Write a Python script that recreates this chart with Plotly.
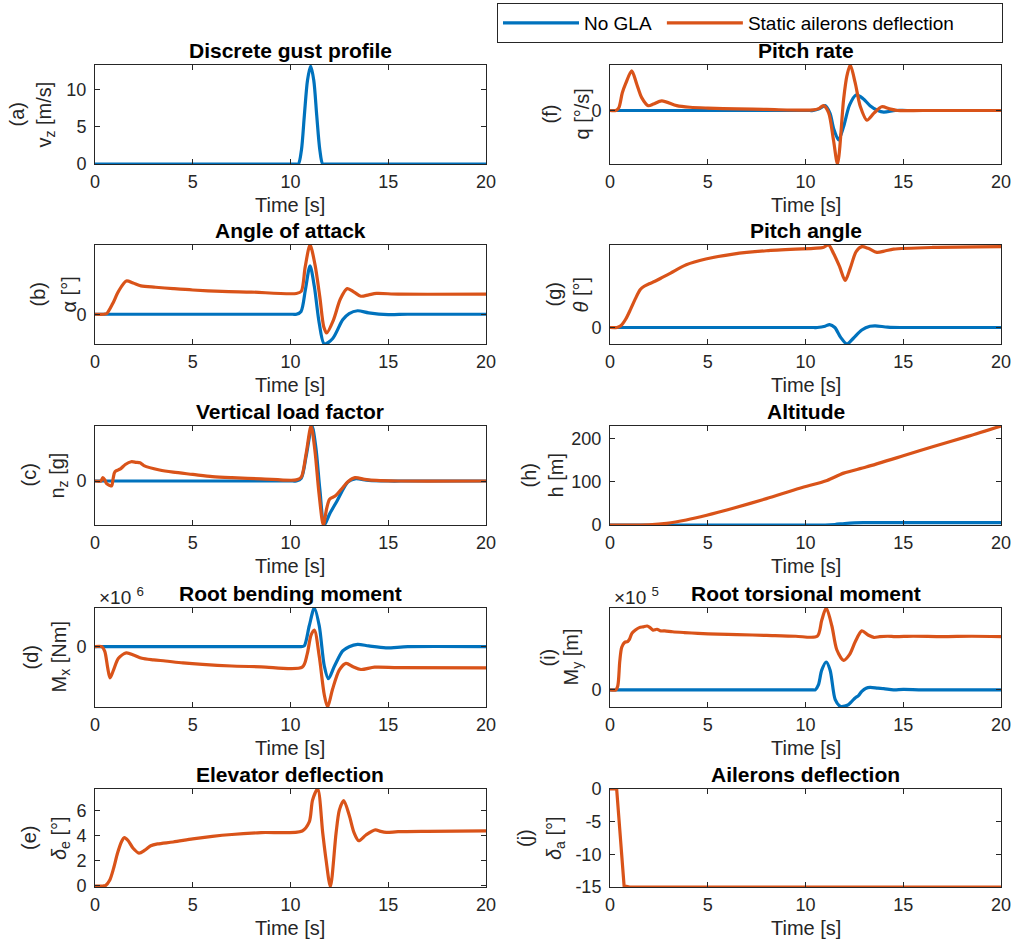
import plotly.graph_objects as go

BLUE = "#0072BD"
ORANGE = "#D95319"

# ---------------- data ----------------
# (a) gust
t_a_nogla = [0, 10.2, 10.40, 10.56, 10.71, 10.87, 11.03, 11.19, 11.34, 11.50, 11.65, 11.85, 20]
v_a_nogla = [0, 0, 0, 1.9, 6.6, 11.3, 13.2, 11.3, 6.6, 1.9, 0, 0, 0]

# (b) angle of attack (arbitrary units)
t_b_nogla = [0, 10.1, 10.3, 10.54, 10.76, 11.0, 11.22, 11.47, 11.73, 12.16, 12.67, 13.0, 13.43, 14.0, 15.0, 16.0, 20]
v_b_nogla = [0, 0, 0, 0.04, 0.35, 0.70, 0.40, -0.13, -0.43, -0.35, -0.08, 0.01, 0.05, 0.02, -0.005, 0, 0]
t_b_sad = [0, 0.45, 0.6, 0.9, 1.2, 1.6, 1.95, 2.35, 3.1, 4.0, 5.0, 6.5, 8.0, 10.3, 10.55, 10.75, 11.0,
           11.25, 11.5, 11.7, 11.85, 12.2, 12.55, 12.9, 13.25, 13.6, 14.0, 14.4, 15.5, 20]
v_b_sad = [0, 0, 0.01, 0.15, 0.33, 0.48, 0.45, 0.41, 0.39, 0.37, 0.35, 0.33, 0.32, 0.30, 0.33, 0.68, 1.0,
           0.72, 0.25, -0.18, -0.27, -0.08, 0.22, 0.37, 0.32, 0.26, 0.28, 0.30, 0.29, 0.29]

# (c) vertical load factor
t_c_nogla = [0, 10.1, 10.3, 10.55, 10.8, 11.1, 11.3, 11.5, 11.73, 12.0, 12.4, 12.93, 13.3, 14.0, 15.0, 16.0, 20]
v_c_nogla = [0, 0, 0, 0.05, 0.45, 1.0, 0.6, -0.15, -0.8, -0.6, -0.35, -0.02, 0.04, 0.01, 0, 0, 0]
t_c_sad = [0, 0.3, 0.4, 0.5, 0.6, 0.75, 0.85, 0.93, 1.02, 1.3, 1.55, 1.85, 2.1, 2.3, 2.5, 3.3, 4.0, 5.0,
           6.0, 7.0, 8.5, 10.3, 10.55, 10.8, 11.05, 11.25, 11.45, 11.68, 11.85, 12.0, 12.3, 12.6, 12.95,
           13.3, 13.8, 14.4, 15.5, 20]
v_c_sad = [0, 0, 0.06, 0.02, -0.05, -0.08, -0.09, 0.05, 0.17, 0.22, 0.30, 0.35, 0.34, 0.33, 0.28, 0.20,
           0.16, 0.12, 0.08, 0.06, 0.04, 0.02, 0.07, 0.5, 1.0, 0.55, -0.2, -0.8, -0.5, -0.33, -0.27, -0.15,
           -0.01, 0.06, 0.03, 0.01, 0.0, 0.0]

# (d) root bending moment (x 1e6 Nm)
t_d_nogla = [0, 10.3, 10.5, 10.7, 10.96, 11.22, 11.47, 11.73, 11.94, 12.25, 12.67, 13.0, 13.43, 14.0, 14.88, 16, 20]
v_d_nogla = [0, 0, 0, 0.02, 0.54, 1.0, 0.54, -0.5, -0.83, -0.5, -0.11, 0.0, 0.06, 0.02, -0.03, 0, 0]
t_d_sad = [0, 0.35, 0.5, 0.65, 0.77, 0.95, 1.2, 1.6, 2.0, 2.4, 3.0, 3.6, 4.5, 5.5, 7.0, 8.5, 10.6, 10.85,
           11.05, 11.22, 11.47, 11.73, 11.9, 12.15, 12.5, 12.84, 13.2, 13.6, 14.3, 15.5, 20]
v_d_sad = [0, 0, -0.12, -0.55, -0.81, -0.6, -0.3, -0.16, -0.22, -0.3, -0.34, -0.37, -0.42, -0.46, -0.5,
           -0.52, -0.53, -0.2, 0.3, 0.43, -0.25, -1.25, -1.56, -1.1, -0.6, -0.43, -0.52, -0.59, -0.53,
           -0.54, -0.55]

# (e) elevator deflection [deg]
t_e_sad = [0, 0.4, 0.55, 0.75, 0.95, 1.15, 1.35, 1.5, 1.7, 1.95, 2.25, 2.55, 2.85, 3.2, 4.0, 5.0, 6.0, 7.0,
           8.5, 10.6, 10.96, 11.13, 11.39, 11.65, 11.82, 12.04, 12.33, 12.5, 12.72, 13.0, 13.26, 13.49,
           13.86, 14.34, 14.6, 14.9, 15.5, 17, 20]
v_e_sad = [0, 0, 0.05, 0.45, 1.4, 2.6, 3.5, 3.85, 3.6, 3.0, 2.62, 2.85, 3.2, 3.35, 3.5, 3.75, 3.95, 4.1,
           4.25, 4.38, 5.1, 6.85, 7.72, 4.2, 2.07, -0.05, 4.2, 6.05, 6.8, 5.65, 4.2, 3.6, 4.06, 4.46, 4.35,
           4.27, 4.32, 4.35, 4.38]

# (f) pitch rate
t_f_nogla = [0, 10.2, 10.4, 10.7, 11.0, 11.25, 11.45, 11.69, 11.95, 12.25, 12.59, 12.95, 13.3, 13.7, 14.0, 14.6, 15.2, 20]
v_f_nogla = [0, 0, 0, 0.03, 0.09, -0.05, -0.35, -0.55, -0.3, 0.1, 0.29, 0.22, 0.09, 0.0, -0.03, 0, 0, 0]
t_f_sad = [0, 0.3, 0.45, 0.63, 0.8, 1.11, 1.37, 1.62, 1.96, 2.22, 2.65, 3.41, 4.1, 5.0, 6.5, 8.0, 10.4,
           10.7, 10.92, 11.18, 11.43, 11.64, 11.95, 12.12, 12.29, 12.54, 12.8, 13.14, 13.5, 13.9, 14.3,
           14.7, 16, 20]
v_f_sad = [0, 0, 0.05, 0.33, 0.5, 0.74, 0.49, 0.24, 0.09, 0.12, 0.18, 0.09, 0.06, 0.045, 0.03, 0.02, 0.01,
           0.04, 0.09, -0.04, -0.55, -1.0, 0.21, 0.65, 0.85, 0.52, 0.08, -0.18, -0.05, 0.07, 0.03, 0.0,
           0.0, 0.0]

# (g) pitch angle
t_g_nogla = [0, 10.4, 10.6, 11.0, 11.23, 11.5, 11.8, 12.12, 12.45, 12.88, 13.3, 13.57, 14.2, 14.85, 15.5, 20]
v_g_nogla = [0, 0, 0, 0.015, 0.036, 0.0, -0.12, -0.2, -0.13, -0.03, 0.015, 0.02, 0.005, 0, 0, 0]
t_g_sad = [0, 0.35, 0.55, 0.8, 1.05, 1.3, 1.55, 1.75, 2.0, 2.3, 2.7, 3.1, 3.9, 4.9, 6.3, 8.0, 10.4, 10.9,
           11.18, 11.43, 11.74, 12.03, 12.29, 12.59, 12.88, 13.2, 13.65, 14.1, 14.5, 16.5, 20]
v_g_sad = [0, 0, 0.02, 0.1, 0.22, 0.35, 0.46, 0.5, 0.53, 0.56, 0.61, 0.66, 0.76, 0.83, 0.89, 0.93, 0.96,
           0.97, 1.0, 0.9, 0.74, 0.57, 0.72, 0.92, 0.98, 0.96, 0.91, 0.93, 0.95, 0.97, 0.98]

# (h) altitude [m]
t_h_nogla = [0, 10.7, 11.0, 11.5, 12.0, 12.5, 13.0, 14.0, 20]
v_h_nogla = [0, 0, 0, 1.2, 3.5, 5.0, 5.4, 5.4, 5.4]
t_h_sad = [0, 1.2, 1.5, 2.0, 2.9, 3.9, 4.95, 6.3, 8.0, 9.7, 11.1, 11.95, 13.1, 15.0, 16.5, 18.3, 20]
v_h_sad = [0, 0, 0, 0.5, 3.9, 11.6, 22.5, 38.8, 61, 85, 103, 120, 134, 160, 181, 205, 229]

# (i) root torsional moment (x 1e5)
t_i_nogla = [0, 10.3, 10.5, 10.66, 10.83, 11.06, 11.26, 11.52, 11.77, 12.0, 12.2, 12.37, 12.54, 12.71, 12.88,
             13.1, 13.31, 13.7, 14.0, 14.5, 15.0, 16, 20]
v_i_nogla = [0, 0, 0, 0.06, 0.24, 0.34, 0.24, -0.12, -0.2, -0.2, -0.18, -0.14, -0.1, -0.07, -0.02, 0.02,
             0.03, 0.02, 0.015, 0.0, 0.005, 0, 0]
t_i_sad = [0, 0.3, 0.4, 0.5, 0.6, 0.75, 0.9, 1.0, 1.12, 1.3, 1.5, 1.7, 1.9, 2.05, 2.2, 2.4, 2.6, 2.8, 3.2,
           3.8, 4.5, 5.5, 6.5, 8.0, 9.5, 10.6, 10.83, 11.06, 11.35, 11.6, 11.95, 12.25, 12.55, 12.88,
           13.2, 13.5, 13.8, 14.2, 14.6, 15.5, 17, 18.5, 20]
v_i_sad = [0, 0, 0.05, 0.35, 0.52, 0.58, 0.59, 0.62, 0.69, 0.73, 0.76, 0.77, 0.78, 0.76, 0.73, 0.74, 0.72,
           0.72, 0.71, 0.70, 0.69, 0.68, 0.675, 0.665, 0.655, 0.655, 0.85, 1.0, 0.78, 0.49, 0.36, 0.43,
           0.59, 0.72, 0.67, 0.64, 0.65, 0.655, 0.65, 0.655, 0.65, 0.655, 0.65]

# (j) ailerons deflection [deg]
t_j_sad = [0, 0.34, 0.72, 1.0, 20]
v_j_sad = [0, 0, -14.8, -15, -15]

x_ticks = [0, 5, 10, 15, 20]
NAME_NOGLA = "No GLA"
NAME_SAD = "Static ailerons deflection"

panels = [
    # key, row, col, title, (ylabel line1, line2), yrange, yticks, series
    ("a", 0, 0, "Discrete gust profile", ("(a)", "v<sub>z</sub> [m/s]"), [0, 13.35], [0, 5, 10],
     [(t_a_nogla, v_a_nogla, BLUE, NAME_NOGLA, "spline")]),
    ("b", 1, 0, "Angle of attack", ("(b)", "α [°]"), [-0.43, 1.0], [0],
     [(t_b_nogla, v_b_nogla, BLUE, NAME_NOGLA, "spline"), (t_b_sad, v_b_sad, ORANGE, NAME_SAD, "spline")]),
    ("c", 2, 0, "Vertical load factor", ("(c)", "n<sub>z</sub> [g]"), [-0.8, 1.0], [0],
     [(t_c_nogla, v_c_nogla, BLUE, NAME_NOGLA, "spline"), (t_c_sad, v_c_sad, ORANGE, NAME_SAD, "spline")]),
    ("d", 3, 0, "Root bending moment", ("(d)", "M<sub>x</sub> [Nm]"), [-1.56, 1.0], [0],
     [(t_d_nogla, v_d_nogla, BLUE, NAME_NOGLA, "spline"), (t_d_sad, v_d_sad, ORANGE, NAME_SAD, "spline")]),
    ("e", 4, 0, "Elevator deflection", ("(e)", "<i>δ</i><sub>e</sub> [°]"), [-0.08, 7.72], [0, 2, 4, 6],
     [(t_e_sad, v_e_sad, ORANGE, NAME_SAD, "spline")]),
    ("f", 0, 1, "Pitch rate", ("(f)", "q [°/s]"), [-1.0, 0.85], [0],
     [(t_f_nogla, v_f_nogla, BLUE, NAME_NOGLA, "spline"), (t_f_sad, v_f_sad, ORANGE, NAME_SAD, "spline")]),
    ("g", 1, 1, "Pitch angle", ("(g)", "<i>θ</i> [°]"), [-0.2, 1.0], [0],
     [(t_g_nogla, v_g_nogla, BLUE, NAME_NOGLA, "spline"), (t_g_sad, v_g_sad, ORANGE, NAME_SAD, "spline")]),
    ("h", 2, 1, "Altitude", ("(h)", "h [m]"), [0, 229], [0, 100, 200],
     [(t_h_nogla, v_h_nogla, BLUE, NAME_NOGLA, "spline"), (t_h_sad, v_h_sad, ORANGE, NAME_SAD, "spline")]),
    ("i", 3, 1, "Root torsional moment", ("(i)", "M<sub>y</sub> [m]"), [-0.21, 1.0], [0],
     [(t_i_nogla, v_i_nogla, BLUE, NAME_NOGLA, "spline"), (t_i_sad, v_i_sad, ORANGE, NAME_SAD, "spline")]),
    ("j", 4, 1, "Ailerons deflection", ("(j)", "<i>δ</i><sub>a</sub> [°]"), [-15, 0], [-15, -10, -5, 0],
     [(t_j_sad, v_j_sad, ORANGE, NAME_SAD, "linear")]),
]

# ---------------- layout geometry (pixels) ----------------
W, H = 1013, 945
col_x = [(95, 486), (610, 1001)]
row_y = [(65, 164), (245, 344), (426, 525), (608, 707), (789, 887)]
ylabel_cx = {"a": (17, 45), "b": (37, 68), "c": (28, 58), "d": (30, 60), "e": (29, 60),
             "f": (550, 582), "g": (553, 580), "h": (528, 555), "i": (547, 572), "j": (525, 555)}

FONT = "Liberation Sans, Arial, Helvetica, sans-serif"
AX = "#262626"

fig = go.Figure()
layout = {}
annotations = []
legend_names = {NAME_NOGLA: NAME_NOGLA + "\u00a0",
                NAME_SAD: NAME_SAD + "\u00a0" * 8}

for idx, (key, r, c, title, ylab, yr, yt, series) in enumerate(panels):
    n = idx + 1
    xa = "x" if n == 1 else f"x{n}"
    ya = "y" if n == 1 else f"y{n}"
    x0, x1 = col_x[c]
    y0, y1 = row_y[r]
    xdom = [x0 / W, x1 / W]
    ydom = [1 - y1 / H, 1 - y0 / H]
    for (tt, vv, col, name, shape) in series:
        show = key == "b"
        line = dict(color=col, width=3.2, shape=shape)
        if shape == "spline":
            line["smoothing"] = 0.8
        fig.add_trace(go.Scatter(
            x=tt, y=vv, mode="lines", name=legend_names[name], xaxis=xa, yaxis=ya,
            line=line, showlegend=show, legendgroup=name, hoverinfo="skip"))
    common = dict(showline=True, linecolor=AX, linewidth=1, mirror="ticks", ticks="inside",
                  ticklen=5, tickcolor=AX, showgrid=False, zeroline=False, automargin=False,
                  tickfont=dict(family=FONT, size=18, color=AX))
    layout["xaxis" if n == 1 else f"xaxis{n}"] = dict(
        domain=xdom, anchor=ya, range=[0, 20], tickvals=x_ticks, ticktext=[str(v) for v in x_ticks],
        ticklabelstandoff=1, **common)
    layout["yaxis" if n == 1 else f"yaxis{n}"] = dict(
        domain=ydom, anchor=xa, range=yr, tickvals=yt, ticktext=[str(v) for v in yt],
        ticklabelstandoff=4, **common)
    # subplot title
    annotations.append(dict(
        text=f"<b>{title}</b>", x=(xdom[0] + xdom[1]) / 2, y=1 - (y0 - 15) / H, xref="paper", yref="paper",
        xanchor="center", yanchor="middle", showarrow=False,
        font=dict(family=FONT, size=21, color="#000000")))
    # x label
    annotations.append(dict(
        text="Time [s]", x=(xdom[0] + xdom[1]) / 2, y=1 - (y1 + 41) / H, xref="paper", yref="paper",
        xanchor="center", yanchor="middle", showarrow=False,
        font=dict(family=FONT, size=20, color=AX)))
    # y label: two rotated lines
    for txt, cx in zip(ylab, ylabel_cx[key]):
        annotations.append(dict(
            text=txt, x=cx / W, y=1 - (y0 + y1) / 2 / H, xref="paper", yref="paper",
            xanchor="center", yanchor="middle", textangle=-90, showarrow=False,
            font=dict(family=FONT, size=20, color=AX)))

annotations.append(dict(text="×10 <sup>6</sup>", x=97 / W, y=1 - 596 / H,
                        xref="paper", yref="paper", xanchor="left", yanchor="middle",
                        showarrow=False, font=dict(family=FONT, size=19, color=AX)))
annotations.append(dict(text="×10 <sup>5</sup>", x=612 / W, y=1 - 596 / H,
                        xref="paper", yref="paper", xanchor="left", yanchor="middle",
                        showarrow=False, font=dict(family=FONT, size=19, color=AX)))

fig.update_layout(
    width=W, height=H, margin=dict(l=0, r=0, t=0, b=0, autoexpand=False),
    paper_bgcolor="white", plot_bgcolor="white",
    font=dict(family=FONT, size=18, color=AX),
    showlegend=True,
    legend=dict(orientation="h", x=497 / W, y=1 - 3 / H, xanchor="left", yanchor="top",
                bordercolor=AX, borderwidth=1, bgcolor="white", itemwidth=76,
                font=dict(family=FONT, size=19, color="#000000"), traceorder="normal"),
    annotations=annotations,
    **layout)

fig.write_html("out.html", config={"displayModeBar": False},
               post_script="document.body.style.margin='0';")
